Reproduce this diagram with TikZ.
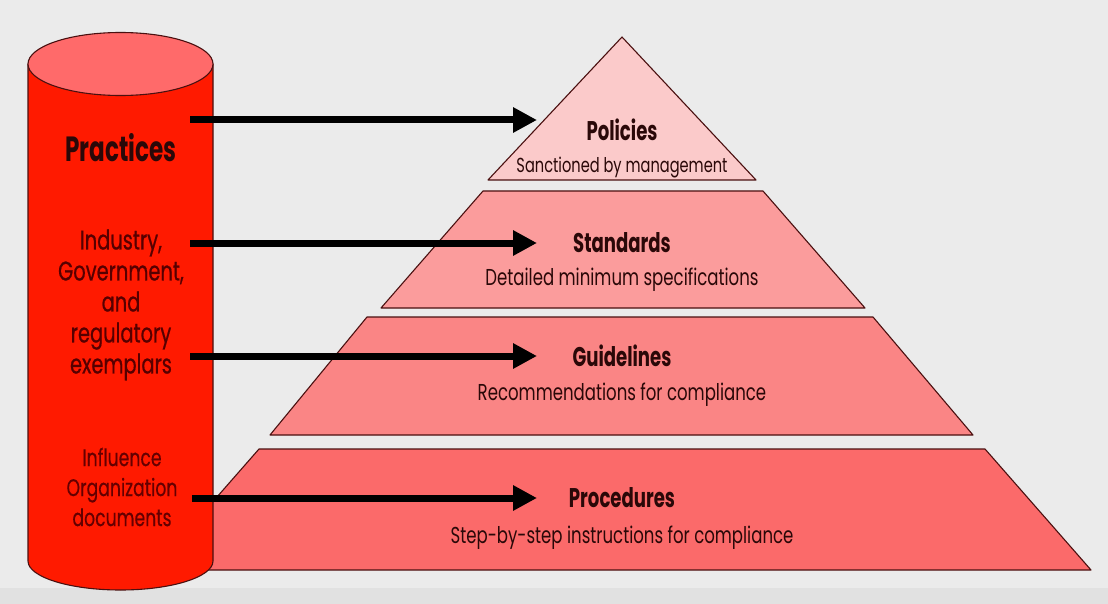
\documentclass[tikz,border=0pt]{standalone}
\usepackage{fontspec}
\setmainfont{Poppins}[FakeStretch=0.72]
\usetikzlibrary{arrows.meta,positioning}
\definecolor{bgc}{HTML}{EBEBEB}
\definecolor{bandc}{HTML}{E1E1E1}
\definecolor{edge}{HTML}{4A1010}
\definecolor{ink}{HTML}{2A0808}
\definecolor{cylred}{HTML}{FF1A00}
\definecolor{cyltop}{HTML}{FF6A6A}
\definecolor{indred}{HTML}{560000}
\definecolor{infred}{HTML}{640000}
\definecolor{l1}{HTML}{FBCACA}
\definecolor{l2}{HTML}{FB9C9C}
\definecolor{l3}{HTML}{FA8585}
\definecolor{l4}{HTML}{FB6A6A}

\begin{document}
\begin{tikzpicture}[x=1pt, y=-1pt,
    layer/.style={draw=edge, line width=1.1pt, line join=round},
    title/.style={font=\fontsize{27}{29}\selectfont\bfseries\addfontfeatures{FakeStretch=0.67}, text=ink, inner sep=0pt},
    sub/.style={font=\fontsize{23}{25}\selectfont, text=ink, inner sep=0pt},
    cyltext/.style={align=center, inner sep=0pt},
    push/.style={line width=7pt, -{Triangle[length=24pt, width=24pt]}}
]
    % Background
    \fill[bgc] (0,0) rectangle (1108,604);
    \fill[bandc] (0,588) rectangle (1108,604);
    \useasboundingbox (0,0) rectangle (1108,604);

    % Pyramid layers, bottom first
    \filldraw[layer, fill=l4] (259,449) -- (985,449) -- (1091,570) -- (153,570) -- cycle;
    \filldraw[layer, fill=l3] (367,317) -- (873,317) -- (973,435) -- (270,435) -- cycle;
    \filldraw[layer, fill=l2] (483,191) -- (763,191) -- (865,308) -- (381,308) -- cycle;
    \filldraw[layer, fill=l1] (622,37) -- (756,180) -- (488,180) -- cycle;

    % Cylinder on the left
    \filldraw[layer, fill=cylred] (28,64) -- (28,561)
        arc[start angle=180, end angle=0, x radius=92.5, y radius=29] -- (213,64) -- cycle;
    \filldraw[layer, fill=cyltop] (120.5,64) ellipse[x radius=92.5, y radius=31.5];

    % Cylinder labels
    \node[font=\fontsize{35}{37}\selectfont\bfseries\addfontfeatures{FakeStretch=0.66}, text=ink, inner sep=0pt] (prac) at (121,148) {Practices};
    \node[cyltext, font=\fontsize{27}{31}\selectfont\addfontfeatures{FakeBold=0.6}, text=indred] (ind) at (121,305) {Industry,\\Government,\\and\\regulatory\\exemplars};
    \node[cyltext, font=\fontsize{24}{30}\selectfont\addfontfeatures{FakeBold=0.3}, text=infred] (infl) at (122,487) {Influence\\Organization\\documents};

    % Layer labels
    \node[title] (pol) at (622,130) {Policies};
    \node[sub, font=\fontsize{20.3}{22}\selectfont] (polsub) at (622,168) {Sanctioned by management};
    \node[title] (std) at (622,243) {Standards};
    \node[sub] (stdsub) at (622,280) {Detailed minimum specifications};
    \node[title] (gui) at (622,356) {Guidelines};
    \node[sub] (guisub) at (622,395) {Recommendations for compliance};
    \node[title] (proc) at (622,498) {Procedures};
    \node[sub] (procsub) at (622,538) {Step-by-step instructions for compliance};

    % Arrows from the cylinder into the pyramid
    \coordinate (s1) at (190,120);
    \coordinate (s2) at (190,243);
    \coordinate (s3) at (190,356);
    \coordinate (s4) at (192,498);
    \coordinate (t1) at (537,120);
    \coordinate (t2) at (537,243);
    \coordinate (t3) at (537,356);
    \coordinate (t4) at (537,498);
    \foreach \i in {1,...,4}
        \draw[push] (s\i) -- (t\i);
\end{tikzpicture}
\end{document}
